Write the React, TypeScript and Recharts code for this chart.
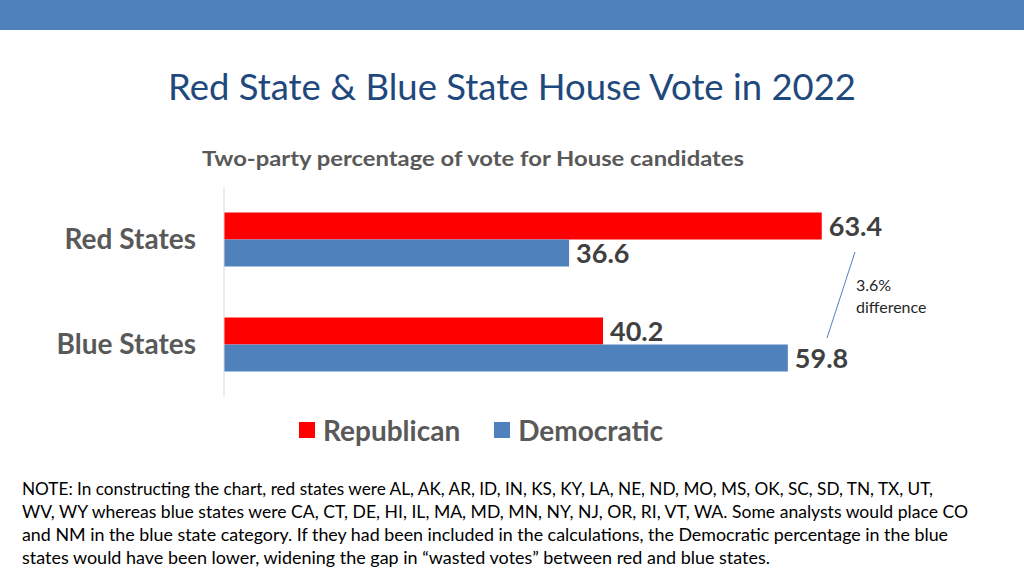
import React from "react";
import { BarChart, Bar, XAxis, YAxis, LabelList } from "recharts";

const categories = ["Red States", "Blue States"];
const republican = [63.4, 40.2];
const democratic = [36.6, 59.8];
const seriesNames = ["Republican", "Democratic"];
const seriesColors = ["#FF0000", "#4F81BD"];
const titleText = "Red State & Blue State House Vote in 2022";
const subtitleText = "Two-party percentage of vote for House candidates";
const noteLines = [
  "NOTE: In constructing the chart, red states were AL, AK, AR, ID, IN, KS, KY, LA, NE, ND, MO, MS, OK, SC, SD, TN, TX, UT,",
  "WV, WY whereas blue states were CA, CT, DE, HI, IL, MA, MD, MN, NY, NJ, OR, RI, VT, WA. Some analysts would place CO",
  "and NM in the blue state category. If they had been included in the calculations, the Democratic percentage in the blue",
  "states would have been lower, widening the gap in \u201cwasted votes\u201d between red and blue states.",
];
const noteWidths = [911, 946, 926, 748];
const annotationLines = ["3.6%", "difference"];

const data = categories.map((name, i) => ({
  name,
  [seriesNames[0]]: republican[i],
  [seriesNames[1]]: democratic[i],
}));

const FONT = "Lato, 'Open Sans', 'DejaVu Sans', sans-serif";

function LegendBox() {
  return (
    <div style={{ position: "absolute", left: 299, top: 414, display: "flex", alignItems: "center", fontFamily: FONT }}>
      {seriesNames.map((n, i) => (
        <div key={n} style={{ display: "flex", alignItems: "center", marginRight: i === 0 ? 34 : 0 }}>
          <div style={{ width: 16, height: 16, background: seriesColors[i], marginRight: 8 }} />
          <span style={{ fontSize: 28, fontWeight: 700, color: "#595959", lineHeight: "32px" }}>{n}</span>
        </div>
      ))}
    </div>
  );
}

export default function App() {
  return (
    <div style={{ position: "absolute", left: 0, top: 0, width: 1024, height: 576, background: "#fff", fontFamily: FONT, overflow: "hidden" }}>
      <svg width={1024} height={576} style={{ position: "absolute", left: 0, top: 0 }}>
        <rect x={0} y={0} width={1024} height={30} fill="#4F81BD" />
        <text x={168} y={100} fontFamily={FONT} fontSize={37} fill="#1F497D" textLength={688} lengthAdjust="spacingAndGlyphs">
          {titleText}
        </text>
        <text x={202} y={166} fontFamily={FONT} fontSize={21} fontWeight={700} fill="#595959" textLength={542} lengthAdjust="spacingAndGlyphs">
          {subtitleText}
        </text>
        <line x1={855} y1={252} x2={827} y2={338} stroke="#4F81BD" strokeWidth={1} />
        {annotationLines.map((t, i) => (
          <text key={t} x={856} y={291 + i * 22} fontFamily={FONT} fontSize={16} fill="#262626">
            {t}
          </text>
        ))}
        {noteLines.map((t, i) => (
          <text key={i} x={22} y={495 + i * 23} fontFamily={FONT} fontSize={16.5} fill="#000" textLength={noteWidths[i]} lengthAdjust="spacingAndGlyphs">
            {t}
          </text>
        ))}
      </svg>
      <div style={{ position: "absolute", left: 0, top: 0 }}>
        <BarChart
          width={1024}
          height={576}
          data={data}
          layout="vertical"
          margin={{ top: 187, bottom: 179, left: 24, right: 140 }}
          barCategoryGap={25.5}
          barGap={0}
        >
          <XAxis type="number" domain={[0, 70]} hide />
          <YAxis
            type="category"
            dataKey="name"
            width={200}
            axisLine={{ stroke: "#D9D9D9" }}
            tickLine={false}
            tickSize={0}
            tickMargin={28}
            tick={{ fontFamily: FONT, fontSize: 28, fontWeight: 700, fill: "#595959" }}
          />
          {seriesNames.map((n, i) => (
            <Bar key={n} dataKey={n} fill={seriesColors[i]} isAnimationActive={false}>
              <LabelList
                dataKey={n}
                position="right"
                offset={7}
                style={{ fontFamily: FONT, fontSize: 27, fontWeight: 700, fill: "#404040" }}
              />
            </Bar>
          ))}
        </BarChart>
      </div>
      <LegendBox />
    </div>
  );
}
